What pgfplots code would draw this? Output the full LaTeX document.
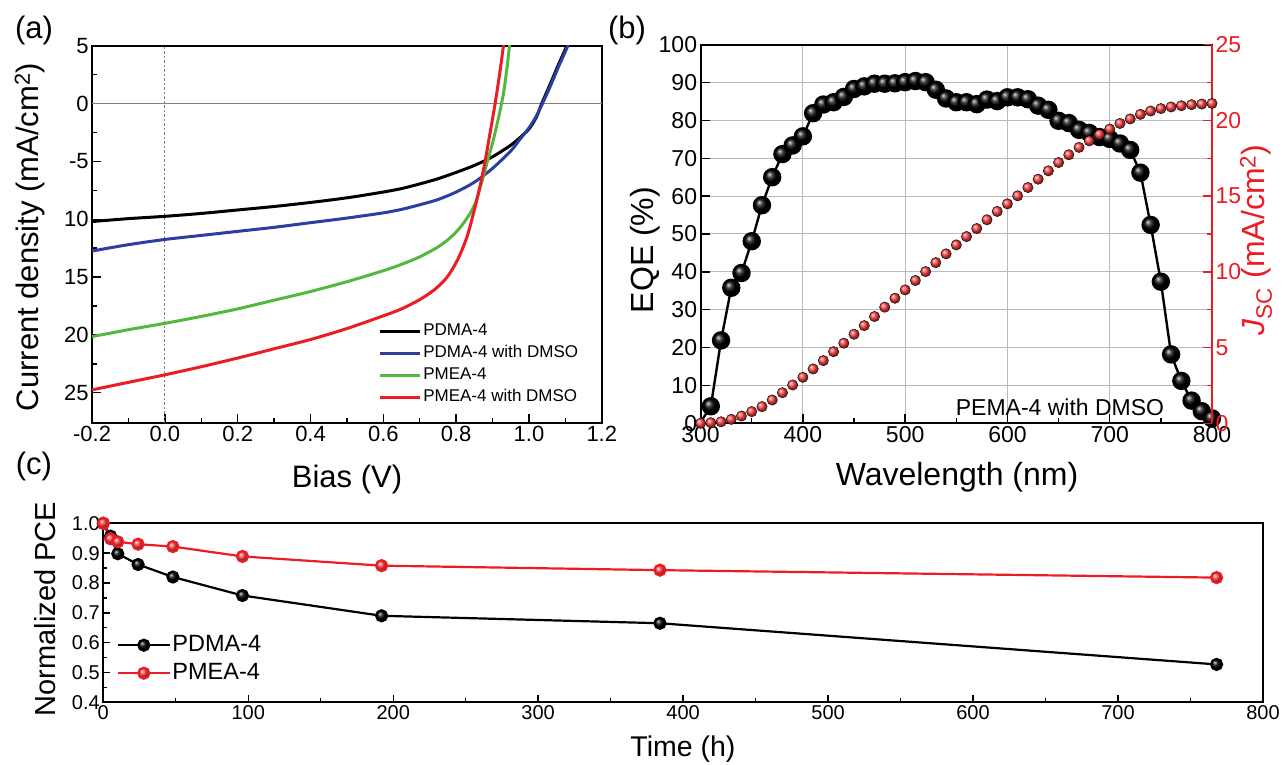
\documentclass[border=0pt]{standalone}
\usepackage{fontspec}
\setmainfont{Liberation Sans}
\usepackage{pgfplots}
\pgfplotsset{compat=1.18}
\usetikzlibrary{plotmarks}
\definecolor{jred}{RGB}{236,28,36}
\definecolor{ballred}{RGB}{255,62,62}
\definecolor{jblue}{RGB}{44,62,160}
\definecolor{jgreen}{RGB}{84,184,62}
\definecolor{gridgray}{RGB}{185,185,185}
\pgfplotsset{
  /pgf/number format/assume math mode=true,
  common/.style={scale only axis, anchor=south west, tick align=inside,
    axis line style={line width=1.8pt},
    every tick/.style={black,line width=1.4pt},
    major tick length=9pt, minor tick length=5pt,
    xtick pos=bottom, ytick pos=left},
}
\begin{document}
\begin{tikzpicture}
\useasboundingbox (0pt,0pt) rectangle (1282pt,764pt);

% ---------------- (a) ----------------
\begin{axis}[common, at={(92.1pt,341.3pt)}, width=509.7pt, height=377pt,
  xmin=-0.2, xmax=1.2, ymin=-27.59, ymax=5,
  xtick={-0.2,0,0.2,0.4,0.6,0.8,1.0,1.2}, minor x tick num=1,
  ytick={-25,-20,-15,-10,-5,0,5}, yticklabels={25,20,15,10,-5,0,5}, minor y tick num=1,
  xticklabel style={/pgf/number format/.cd,fixed,fixed zerofill,precision=1},
  tick label style={font=\fontsize{22}{26}\selectfont},
  legend style={at={(0.562,0.27)}, anchor=north west, draw=none, fill=none,
    font=\fontsize{17}{20}\selectfont, row sep=2pt, inner sep=0pt,
    nodes={inner sep=1.5pt, text height=13pt, text depth=4pt}},
  legend cell align=left,
  legend image code/.code={\draw[#1] (0pt,0pt) -- (40pt,0pt);},
]
\addplot[gray, line width=1pt, forget plot] coordinates {(-0.2,0) (1.2,0)};
\addplot[gray, line width=0.9pt, dash pattern=on 2.5pt off 2pt, forget plot] coordinates {(0,-27.59) (0,5)};
\addplot[black, line width=3pt, smooth, tension=0.5] coordinates {
(-0.2,-10.2) (-0.1,-9.95) (0.0,-9.75) (0.1,-9.5) (0.2,-9.2) (0.3,-8.9) (0.4,-8.55)
(0.5,-8.15) (0.6,-7.65) (0.65,-7.35) (0.7,-6.95) (0.75,-6.5) (0.8,-5.95) (0.85,-5.35)
(0.9,-4.6) (0.95,-3.6) (0.975,-2.95) (1.0,-2.2) (1.02,-1.2) (1.035,0.0) (1.06,1.8) (1.08,3.3) (1.1,4.7) (1.115,5.8)};
\addlegendentry{PDMA-4}
\addplot[jblue, line width=3pt, smooth, tension=0.5] coordinates {
(-0.2,-12.75) (-0.1,-12.2) (0.0,-11.75) (0.1,-11.4) (0.2,-11.05) (0.3,-10.7) (0.4,-10.3)
(0.5,-9.9) (0.6,-9.45) (0.65,-9.15) (0.7,-8.75) (0.75,-8.3) (0.8,-7.65) (0.85,-6.8)
(0.9,-5.6) (0.95,-4.1) (0.975,-3.1) (1.0,-2.1) (1.02,-1.1) (1.04,0.2) (1.06,1.6) (1.08,3.1) (1.1,4.5) (1.12,6.0)};
\addlegendentry{PDMA-4 with DMSO}
\addplot[jgreen, line width=3pt, smooth, tension=0.5] coordinates {
(-0.2,-20.15) (-0.1,-19.55) (0.0,-19.0) (0.1,-18.4) (0.2,-17.75) (0.3,-17.0) (0.4,-16.25)
(0.5,-15.4) (0.6,-14.45) (0.65,-13.9) (0.7,-13.25) (0.75,-12.4) (0.78,-11.7) (0.8,-11.1)
(0.82,-10.35) (0.84,-9.4) (0.855,-8.4) (0.87,-6.8) (0.885,-5.1) (0.9,-3.4) (0.91,-2.1)
(0.92,-0.7) (0.93,0.9) (0.94,3.2) (0.95,6.0)};
\addlegendentry{PMEA-4}
\addplot[jred, line width=3pt, smooth, tension=0.5] coordinates {
(-0.2,-24.75) (-0.1,-24.1) (0.0,-23.45) (0.1,-22.75) (0.2,-22.0) (0.3,-21.2) (0.4,-20.4)
(0.5,-19.45) (0.6,-18.35) (0.65,-17.75) (0.7,-16.95) (0.74,-16.1) (0.77,-15.2) (0.79,-14.3)
(0.81,-13.1) (0.83,-11.5) (0.845,-9.8) (0.86,-7.9) (0.87,-6.5) (0.88,-4.9) (0.89,-3.1)
(0.9,-1.3) (0.91,0.6) (0.92,2.7) (0.93,5.0) (0.94,7.2)};
\addlegendentry{PMEA-4 with DMSO}
\end{axis}

% ---------------- (b) left: EQE ----------------
\begin{axis}[common, at={(700.6pt,340.7pt)}, width=511.4pt, height=378.6pt,
  xmin=300, xmax=800, ymin=0, ymax=100,
  xtick={300,400,...,800}, minor x tick num=1, ytick={0,10,...,100},
  grid=major, grid style={gridgray, line width=1pt},
  tick label style={font=\fontsize{23}{26}\selectfont},
]
\addplot[black, line width=2.4pt, mark=ball, mark options={ball color=black}, mark size=8pt,
  mark repeat=1, mark phase=2] table {
x y
300 0.3
310 4.5
320 21.9
330 35.8
340 39.7
350 48.1
360 57.6
370 65.0
380 71.1
390 73.4
400 75.8
410 81.9
420 84.2
430 84.8
440 86.2
450 88.3
460 89.0
470 89.7
480 89.7
490 89.8
500 90.1
510 90.4
520 90.1
530 88.1
540 85.8
550 84.8
560 84.8
570 84.3
580 85.5
590 85.1
600 86.1
610 86.1
620 85.6
630 83.9
640 82.8
650 79.9
660 79.3
670 77.5
680 76.7
690 75.6
700 75.1
710 73.9
720 72.2
730 66.2
740 52.4
750 37.4
760 18.2
770 11.2
780 6.0
790 3.2
800 1.3
};
\end{axis}

% ---------------- (b) right: Jsc ----------------
\begin{axis}[scale only axis, anchor=south west, at={(700.6pt,340.7pt)}, width=511.4pt, height=378.6pt,
  xmin=300, xmax=800, ymin=0, ymax=25,
  axis x line=none, axis y line*=right,
  tick align=inside, major tick length=9pt, minor tick length=5pt,
  ytick={0,5,...,25}, minor y tick num=1,
  y axis line style={-, jred, line width=1.8pt},
  every tick/.style={jred, line width=1.4pt},
  yticklabel style={jred, font=\fontsize{23}{26}\selectfont},
]
\addplot[only marks, mark=ball, mark options={ball color=ballred}, mark size=5.2pt] table {
x y
300 0.0
310 0.04
320 0.1
330 0.26
340 0.48
350 0.77
360 1.1
370 1.54
380 2.02
390 2.53
400 3.04
410 3.59
420 4.14
430 4.73
440 5.29
450 5.88
460 6.45
470 7.05
480 7.67
490 8.26
500 8.81
510 9.43
520 10.02
530 10.61
540 11.19
550 11.78
560 12.33
570 12.86
580 13.44
590 13.99
600 14.49
610 15.02
620 15.57
630 16.12
640 16.67
650 17.22
660 17.73
670 18.22
680 18.65
690 19.07
700 19.43
710 19.8
720 20.1
730 20.4
740 20.62
750 20.78
760 20.89
770 20.97
780 21.04
790 21.08
800 21.12
};
\end{axis}

% ---------------- (c) ----------------
\begin{axis}[common, at={(103.3pt,61.7pt)}, width=1159.7pt, height=179pt,
  xmin=0, xmax=800, ymin=0.4, ymax=1.0,
  xtick={0,100,...,800}, minor x tick num=1,
  ytick={0.4,0.5,0.6,0.7,0.8,0.9,1.0}, minor y tick num=1,
  major tick length=7pt, minor tick length=4pt,
  yticklabel style={/pgf/number format/.cd,fixed,fixed zerofill,precision=1},
  tick label style={font=\fontsize{20}{24}\selectfont},
  legend style={at={(0.0114,0.39)}, anchor=north west, draw=none, fill=none,
    font=\fontsize{23.5}{27}\selectfont, row sep=3pt, inner sep=0pt,
    nodes={inner sep=1.5pt, text height=17pt, text depth=5pt}},
  legend cell align=left,
  legend image code/.code={\draw[#1,mark repeat=2,mark phase=2] plot coordinates {(0pt,0pt) (26pt,0pt) (52pt,0pt)};},
]
\addplot[black, line width=2.2pt, mark=ball, mark options={ball color=black}, mark size=5.5pt] table {
x y
0 1.0
5 0.957
10 0.898
24 0.862
48 0.82
96 0.758
192 0.69
384 0.665
768 0.527
};
\addlegendentry{PDMA-4}
\addplot[jred, line width=2.2pt, mark=ball, mark options={ball color=ballred}, mark size=5.5pt] table {
x y
0 1.0
5 0.948
10 0.938
24 0.93
48 0.922
96 0.889
192 0.858
384 0.843
768 0.818
};
\addlegendentry{PMEA-4}
\end{axis}

% ---------------- labels ----------------
\node[rotate=90, font=\fontsize{31}{36}\selectfont] at (30pt,527pt) {Current density (mA/cm\textsuperscript{2})};
\node[font=\fontsize{31}{36}\selectfont] at (347pt,285pt) {Bias (V)};
\node[font=\fontsize{32}{36}\selectfont] at (957pt,287pt) {Wavelength (nm)};
\node[rotate=90, font=\fontsize{32}{36}\selectfont] at (645pt,514pt) {EQE (\%)};
\node[rotate=90, font=\fontsize{32}{36}\selectfont, text=jred] at (1256pt,524pt) {\textit{J}\textsubscript{SC} (mA/cm\textsuperscript{2})};
\node[font=\fontsize{23}{26}\selectfont] at (1060pt,357pt) {PEMA-4 with DMSO};
\node[rotate=90, font=\fontsize{29}{33}\selectfont] at (45pt,155pt) {Normalized PCE};
\node[font=\fontsize{28.5}{32}\selectfont] at (683pt,15pt) {Time (h)};
\node[font=\fontsize{31}{36}\selectfont] at (34pt,734pt) {(a)};
\node[font=\fontsize{31}{36}\selectfont] at (627pt,734pt) {(b)};
\node[font=\fontsize{31}{36}\selectfont] at (34pt,298pt) {(c)};
\end{tikzpicture}
\end{document}
